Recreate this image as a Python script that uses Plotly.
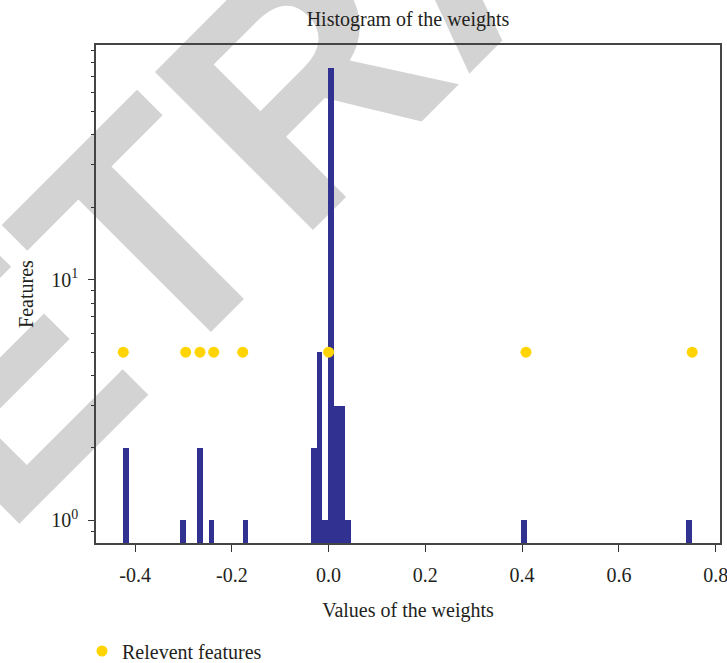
import base64
import plotly.graph_objects as go

# ---------------- data ----------------
hist_min = -0.4243
hist_max = 0.7507
n_bins = 100
bin_index = [0, 10, 13, 15, 21, 33, 34, 35, 36, 37, 38, 39, 70, 99]
bin_count = [2, 1, 2, 1, 1, 2, 5, 1, 76, 3, 3, 1, 1, 1]

relevant_x = [-0.4243, -0.2953, -0.2658, -0.2374, -0.1775, 0.0, 0.408, 0.7516]
relevant_y = [5, 5, 5, 5, 5, 5, 5, 5]

x_tickvals = [-0.4, -0.2, 0.0, 0.2, 0.4, 0.6, 0.8]
x_ticktext = ["-0.4", "-0.2", "0.0", "0.2", "0.4", "0.6", "0.8"]
y_tickvals = [1, 10]
y_ticktext = ["10<sup>0</sup>", "10<sup>1</sup>"]
y_minor = [0.8, 0.9, 2, 3, 4, 5, 6, 7, 8, 9, 20, 30, 40, 50, 60, 70, 80, 90]

title_text = "Histogram of the weights"
x_title = "Values of the weights"
y_title = "Features"
legend_name = "Relevent features"
watermark = "RETRACTED"

# ---------------- derived ----------------
bin_w = (hist_max - hist_min) / n_bins
bin_centers = [hist_min + (i + 0.5) * bin_w for i in bin_index]

FONT = "Liberation Serif, Times New Roman, serif"
TXT = "#231f20"

W, H = 727, 663
L, R, T, B = 96, 7, 45, 120
pw, ph = W - L - R, H - T - B

svg = (
    f'<svg xmlns="http://www.w3.org/2000/svg" width="{W}" height="{H}" viewBox="0 0 {W} {H}">'
    f'<text x="-162" y="705" transform="rotate(-45 -162 705)" '
    f'font-family="Liberation Sans, Arial, sans-serif" font-weight="bold" '
    f'font-size="325" fill="#d3d3d3">{watermark}</text></svg>'
)
svg_uri = "data:image/svg+xml;base64," + base64.b64encode(svg.encode()).decode()

fig = go.Figure()
fig.add_trace(go.Bar(
    x=bin_centers, y=bin_count, width=bin_w,
    marker=dict(color="#313192", line=dict(width=0)),
    showlegend=False, hoverinfo="x+y",
))
fig.add_trace(go.Scatter(
    x=relevant_x, y=relevant_y, mode="markers", name=legend_name,
    marker=dict(color="#ffd400", size=11, line=dict(width=0)),
))

fig.update_layout(
    width=W, height=H,
    margin=dict(l=L, r=R, t=T, b=B, autoexpand=False),
    paper_bgcolor="white",
    plot_bgcolor="rgba(0,0,0,0)",
    font=dict(family=FONT, size=20, color=TXT),
    bargap=0,
    title=dict(text=title_text, x=408 / W, xanchor="center",
               y=1 - 19 / H, yanchor="middle", yref="container",
               font=dict(family=FONT, size=20, color=TXT)),
    showlegend=True,
    legend=dict(orientation="h", x=(82 - L) / pw, xanchor="left",
                y=(543 - 651) / ph, yanchor="middle",
                font=dict(family=FONT, size=20, color=TXT),
                bgcolor="rgba(0,0,0,0)"),
    images=[dict(source=svg_uri, xref="paper", yref="paper",
                 x=-L / pw, y=(H - B) / ph, sizex=W / pw, sizey=H / ph,
                 xanchor="left", yanchor="top", sizing="stretch", layer="below")],
)

fig.update_xaxes(
    range=[-0.4807, 0.809], showgrid=False, zeroline=False,
    tickvals=x_tickvals, ticktext=x_ticktext,
    ticks="outside", ticklen=7, tickwidth=1.2, tickcolor="#333",
    showline=True, linecolor="#444", linewidth=1.5, mirror=True,
    tickfont=dict(family=FONT, size=20, color=TXT),
    ticklabelstandoff=6, ticklabeloverflow="allow",
    title=dict(text=x_title, standoff=18, font=dict(family=FONT, size=20, color=TXT)),
)
fig.update_yaxes(
    type="log", range=[-0.094, 1.975], showgrid=False, zeroline=False,
    tickvals=y_tickvals, ticktext=y_ticktext,
    ticks="outside", ticklen=6, tickwidth=1.2, tickcolor="#333",
    minor=dict(tickvals=y_minor, ticks="outside", ticklen=3.5, tickwidth=1, tickcolor="#333", showgrid=False),
    showline=True, linecolor="#444", linewidth=1.5, mirror=True,
    tickfont=dict(family=FONT, size=20, color=TXT),
    ticklabelstandoff=6,
    title=dict(text=y_title, standoff=12, font=dict(family=FONT, size=20, color=TXT)),
)

fig.write_html(
    "out.html",
    config={"displayModeBar": False},
    post_script="document.body.style.margin='0px';document.body.style.overflow='hidden';",
)
